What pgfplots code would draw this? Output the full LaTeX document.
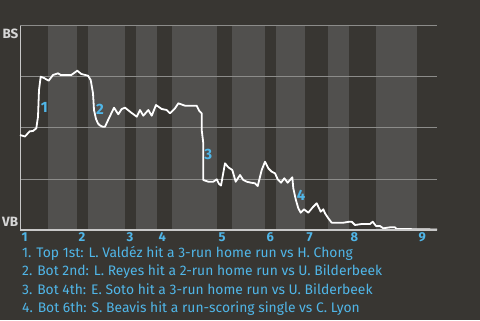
\documentclass[border=0pt]{standalone}
\usepackage{fontspec}
\setmainfont{Fira Sans}
\usepackage{pgfplots}
\pgfplotsset{compat=1.18}
\definecolor{bg}{RGB}{56,54,50}
\definecolor{band}{RGB}{81,80,78}
\definecolor{gridc}{RGB}{140,140,138}
\definecolor{axc}{RGB}{200,200,200}
\definecolor{txtblue}{RGB}{80,182,232}
\definecolor{lbl}{RGB}{215,215,215}
\begin{document}
\begin{tikzpicture}[x=1bp,y=1bp]
\fill[bg] (0,0) rectangle (480,320);
\begin{axis}[
 at={(20bp,90bp)}, anchor=south west, scale only axis,
 width=417bp, height=204bp,
 xmin=0, xmax=417, ymin=0, ymax=204,
 clip=false,
 axis line style={draw=none},
 xtick={0,57,105,137,197,245,285,329,397},
 xticklabels={1,2,3,4,5,6,7,8,9},
 ytick=\empty,
 major tick length=0pt,
 xticklabel style={anchor=north west, font=\bfseries\fontsize{13}{13}\selectfont, text=txtblue, inner sep=1pt, xshift=0.5bp, yshift=-1.5bp},
]
% light bands (bottom half-innings)
\foreach \a/\b in {28/57,68/105,116/137,152/197,212/245,256/285,308/329,356/397}{
  \edef\tmp{\noexpand\fill[band] (axis cs:\a,0) rectangle (axis cs:\b,204);}\tmp
}
\foreach \v in {51,102,153,204}{
  \edef\tmp{\noexpand\draw[gridc, line width=1bp] (axis cs:0,\v) -- (axis cs:417,\v);}\tmp
}
\draw[axc, line width=1bp] (axis cs:0,0) -- (axis cs:0,204);
\addplot[white, line width=1.8bp, line join=round, mark=none] coordinates {
(0,95) (5,93.5) (9.7,98.7) (13,99) (16.3,101.7) (18,113.3) (19,140) (20.7,153.3)
(24,152) (28.7,149.3) (33,155) (38,156.7) (40.7,155) (51.3,155) (57.3,159.3)
(61.3,156) (68,154.3) (70.7,150) (73,136.7) (74,120) (76,111) (78,106.5)
(80,104.5) (82.7,103.3) (85,103.3) (87.3,108.3) (94,122.3) (98.3,115.7)
(101.7,121) (105,122.3) (110,118.3) (116.7,113.3) (120,120) (123.3,114.3)
(128.3,120) (131.7,114.3) (136,125) (141.7,121) (146.7,120) (150,116.7)
(155,121.7) (158.3,126.7) (165,124.3) (176.7,124.3) (179.3,119) (181.7,116.7)
(181.7,100) (183.3,86.7) (183.3,50) (188.3,48.3) (193.3,48.3) (196.7,50.7)
(199,46) (201,44.5) (205,66.7) (208.3,62.7) (212.3,60) (215.7,48.3) (220,55)
(223.3,50) (226.7,48.3) (231,47.3) (235,46.7) (237.7,44) (241.7,60) (245,68.3)
(248.3,61.7) (251.7,58.3) (255,56.7) (257.7,50.7) (261,47.3) (264.3,51.7)
(267.7,47.3) (272.3,52.7) (273.3,41.7) (275.7,30.7) (278.3,21.7) (280.7,17.3)
(284,20.7) (288.3,17.3) (292.7,22.7) (296.7,26.7) (300.7,18.3) (303.3,20.7)
(305,16.7) (308.3,11.7) (311.7,7.3) (323.3,7.3) (329.3,8.3) (331.7,8.3)
(335,5) (341.7,6) (350,6) (352.7,8.3) (356,4) (360,4) (363.3,1.7) (370,2.7)
(375,2.7) (376.7,1) (397,0.8) (417,0.5)
};
\draw[axc, line width=1.5bp] (axis cs:0,0) -- (axis cs:417,0);
\node[text=txtblue, font=\bfseries\fontsize{15}{15}\selectfont, inner sep=0pt] at (axis cs:24.3,122.5) {1};
\node[text=txtblue, font=\bfseries\fontsize{15}{15}\selectfont, inner sep=0pt] at (axis cs:80,120.3) {2};
\node[text=txtblue, font=\bfseries\fontsize{15}{15}\selectfont, inner sep=0pt] at (axis cs:188.3,75.7) {3};
\node[text=txtblue, font=\bfseries\fontsize{15}{15}\selectfont, inner sep=0pt] at (axis cs:281,34.7) {4};
\end{axis}
\node[anchor=base west, text=lbl, font=\bfseries\fontsize{13.5}{13.5}\selectfont, inner sep=0pt] at (2.5,282) {BS};
\node[anchor=base west, text=lbl, font=\bfseries\fontsize{13.5}{13.5}\selectfont, inner sep=0pt] at (2,94) {VB};
\begin{scope}[every node/.style={anchor=base west, text=txtblue, font=\fontsize{13.9}{13.9}\selectfont, inner sep=0pt}]
\node at (22,63) {1. Top 1st: L. Valdéz hit a 3-run home run vs H. Chong};
\node at (22,44.3) {2. Bot 2nd: L. Reyes hit a 2-run home run vs U. Bilderbeek};
\node at (22,26) {3. Bot 4th: E. Soto hit a 3-run home run vs U. Bilderbeek};
\node at (22,8) {4. Bot 6th: S. Beavis hit a run-scoring single vs C. Lyon};
\end{scope}
\end{tikzpicture}
\end{document}
